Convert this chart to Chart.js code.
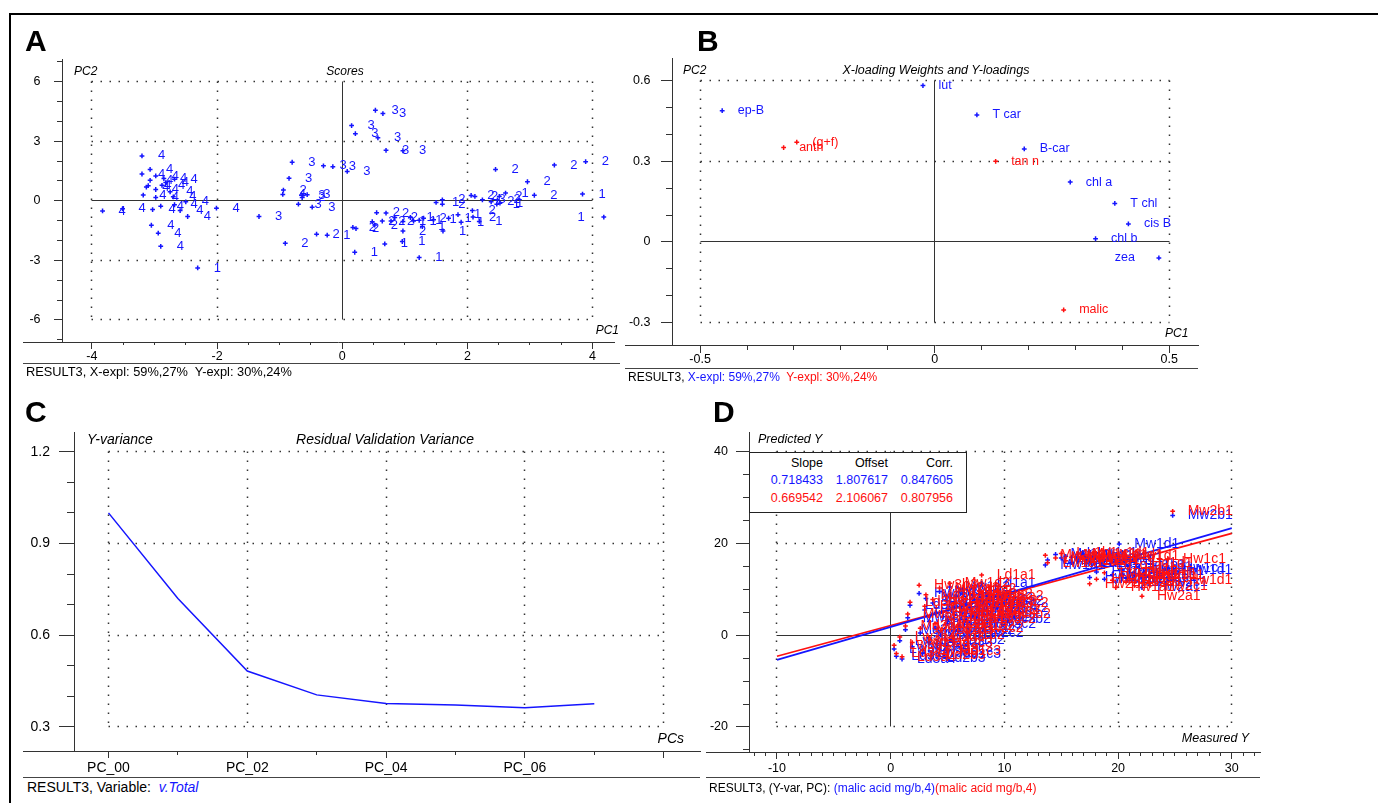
<!DOCTYPE html>
<html>
<head>
<meta charset="utf-8">
<title>PLS overview</title>
<script src="https://cdn.jsdelivr.net/npm/chart.js@4.4.1/dist/chart.umd.min.js"></script>
<style>
  html, body { margin: 0; padding: 0; background: #fff; overflow: hidden; }
  body { position: relative; width: 1378px; height: 803px; font-family: 'Liberation Sans', Arial, sans-serif; }
  canvas { position: absolute; }
  .t { position: absolute; line-height: 0; white-space: pre; font-size: 12px; color: #000; z-index: 3; }
  .it { font-style: italic; }
  .big { font-size: 30px; font-weight: bold; }
  .r { transform: translateX(-100%); }
  .c { transform: translateX(-50%); }
  .rule { position: absolute; height: 1px; background: #444; }
  .frame { position: absolute; background: #000; }
  .blue { color: #1515ff; }
  .red { color: #ff1010; }
  #fitBox { position: absolute; left: 749px; top: 452px; width: 218px; height: 61px; box-sizing: border-box; border: 1.5px solid #222; background: #fff; z-index: 2; }
</style>
</head>
<body>
<div class="frame" style="left:9px;top:13px;width:1369px;height:2px"></div>
<div class="frame" style="left:9px;top:13px;width:2px;height:790px"></div>

<canvas id="scores" width="620" height="360" style="left:0;top:14px"></canvas>
<canvas id="loadings" width="600" height="365" style="left:620px;top:14px"></canvas>
<canvas id="variance" width="710" height="385" style="left:0;top:390px"></canvas>
<canvas id="predicted" width="600" height="385" style="left:700px;top:390px"></canvas>
<div id="fitBox"></div>

<!-- A -->
<div class="t big" style="left:25px;top:41px">A</div>
<div class="t it" style="left:74px;top:71px">PC2</div>
<div class="t it c" style="left:345px;top:71px">Scores</div>
<div class="t it r" style="left:619px;top:330px">PC1</div>
<div class="rule" style="left:23px;top:363px;width:597px"></div>
<div class="t" style="left:26px;top:372px;font-size:12.8px">RESULT3, X-expl: 59%,27%  Y-expl: 30%,24%</div>

<!-- B -->
<div class="t big" style="left:697px;top:41px">B</div>
<div class="t it" style="left:683px;top:70px">PC2</div>
<div class="t it c" style="left:936px;top:70px;font-size:12.5px">X-loading Weights and Y-loadings</div>
<div class="t it" style="left:1165px;top:333px">PC1</div>
<div class="rule" style="left:625px;top:368px;width:573px"></div>
<div class="t" style="left:628px;top:377px">RESULT3, <span class="blue">X-expl: 59%,27%</span>  <span class="red">Y-expl: 30%,24%</span></div>

<!-- C -->
<div class="t big" style="left:25px;top:412px">C</div>
<div class="t it" style="left:87px;top:439px;font-size:14px">Y-variance</div>
<div class="t it c" style="left:385px;top:439px;font-size:14px">Residual Validation Variance</div>
<div class="t it r" style="left:684px;top:738px;font-size:14px">PCs</div>
<div class="rule" style="left:23px;top:777px;width:677px"></div>
<div class="t" style="left:27px;top:787px;font-size:14px">RESULT3, Variable:  <span class="blue it">v.Total</span></div>

<!-- D -->
<div class="t big" style="left:713px;top:412px">D</div>
<div class="t it" style="left:758px;top:439px;font-size:12.5px">Predicted Y</div>
<div class="t it r" style="left:1249px;top:738px;font-size:12.5px">Measured Y</div>
<div class="rule" style="left:706px;top:777px;width:554px"></div>
<div class="t" style="left:709px;top:788px">RESULT3, (Y-var, PC): <span class="blue">(malic acid mg/b,4)</span><span class="red">(malic acid mg/b,4)</span></div>

<script>
// ---------- A: scores ----------
var scorePC1 = [
  -3.20, -3.07, -3.20, -2.98, -3.07, -2.68, -2.85, -2.82, -3.10, -3.13,
  -2.88, -2.98, -2.75, -3.18, -2.98, -2.70, -2.50, -3.83, -3.51, -3.03,
  -2.90, -2.68, -2.59, -2.47, -3.05, -2.94, -2.90, -2.01, -2.31,
  -1.33, -0.80, -0.85, -0.94, -0.95, -0.64, -0.56, -0.64, -0.70, -0.48, -0.30, -0.15, 0.08,
  0.53, 0.65, 0.15, 0.21, 0.57, 0.70, 0.97,
  -0.91, -0.41, -0.24, 0.17, 0.22, 0.20, 0.68, 0.96, 1.23,
  0.55, 0.70, 0.48, 0.52, 0.64, 0.78, 0.84, 0.97, 0.97, 1.09, 1.14, 1.23, 1.30, 1.46, 1.28,
  1.50, 1.60, 1.60, 1.70, 1.61, 1.90, 2.06, 2.12, 2.08, 2.09, 2.19, 2.24, 2.38, 2.48, 2.47, 2.51, 1.85,
  2.45, 2.96, 2.61, 2.52, 3.07, 3.39, 3.89, 3.84, 4.18
];
var scorePC2 = [
  2.26, 1.58, 1.35, 1.25, 1.03, 1.09, 1.12, 0.92, 0.76, 0.69,
  0.78, 0.57, 0.45, 0.29, 0.17, 0.20, -0.05, -0.51, -0.40, -0.44,
  -0.27, -0.20, -0.49, -0.79, -1.23, -1.63, -2.29, -0.37, -3.38,
  -0.79, 1.94, 1.13, 0.54, 0.32, 0.29, 0.31, 0.16, -0.17, -0.32, 1.76, 1.72, 1.48,
  4.56, 4.39, 3.79, 3.38, 3.17, 2.54, 2.52,
  -2.14, -1.68, -1.73, -1.34, -1.40, -2.59, -2.17, -2.05, -2.86,
  -0.60, -0.62, -1.05, -1.22, -1.02, -1.02, -0.84, -1.04, -1.52, -0.84, -1.02, -0.98, -0.88, -0.95, -1.30,
  -0.08, 0.05, -0.17, -0.88, -1.52, -1.08, 0.27, 0.22, -0.49, -0.82, -1.04, 0.05, -0.05, 0.05, -0.17, 0.22, -0.70,
  1.58, 0.96, 0.39, -0.12, 0.28, 1.80, 1.97, 0.34, -0.82
];
var scoreGroup = [
  4, 4, 4, 4, 4, 4, 4, 4, 4, 4,
  4, 4, 4, 4, 4, 4, 4, 4, 4, 4,
  4, 4, 4, 4, 4, 4, 4, 4, 1,
  3, 3, 3, 2, 4, 3, 3, 2, 3, 3, 3, 3, 3,
  3, 3, 3, 3, 3, 3, 3,
  2, 2, 1, 2, 2, 1, 1, 1, 1,
  2, 2, 2, 2, 2, 2, 2, 1, 2, 1, 1, 1, 2, 1, 1,
  1, 2, 2, 1, 1, 1, 2, 2, 2, 2, 1, 3, 2, 2, 1, 2, 1,
  2, 2, 1, 1, 2, 2, 2, 1, 1
];

// ---------- B: loadings ----------
var xLoadNames = ['ep-B', 'lut', 'T car', 'B-car', 'chl a', 'T chl', 'cis B', 'chl b', 'zea'];
var xLoadPC1 = [-0.453, -0.025, 0.090, 0.191, 0.289, 0.384, 0.413, 0.343, 0.478];
var xLoadPC2 = [0.487, 0.580, 0.471, 0.345, 0.222, 0.143, 0.067, 0.012, -0.059];
var yLoadNames = ['anth', '(g+f)', 'tan n', 'malic'];
var yLoadPC1 = [-0.322, -0.294, 0.130, 0.275];
var yLoadPC2 = [0.350, 0.370, 0.299, -0.252];

// ---------- C: residual validation variance ----------
var pcNumber = [0, 1, 2, 3, 4, 5, 6, 7];
var residualVar = [1.0, 0.72, 0.483, 0.405, 0.377, 0.372, 0.363, 0.376];

// ---------- D: predicted vs measured ----------
var sampleNames = [
  'Lw3d4', 'Ld3c4', 'Lw3b4', 'Ld3a4', 'Md3d4', 'Mw3c4', 'Ld3b4', 'Md3a4',
  'Hw3b3', 'Mw3b3', 'Lw3a3', 'Hd3a3', 'Md3b3', 'Lw2d3', 'Mw2c3', 'Ld2b3', 'Hw2d3', 'Md2a3',
  'Lw2b3', 'Hd2c3', 'Mw2a3', 'Ld2c3', 'Hw1d3', 'Md1c3', 'Lw1a3', 'Hd1b3',
  'Mw1d2', 'Ld1b2', 'Hw1a2', 'Md1d2', 'Lw1c2', 'Hd1a2', 'Mw2d2', 'Ld2a2', 'Hw2c2', 'Md2b2',
  'Lw2c2', 'Hd2d2', 'Mw3a2', 'Ld3d2', 'Ld1a1', 'Hw3c2', 'Md3c2', 'Lw3d2', 'Hd3a2', 'Mw3b2', 'Ld3c2',
  'Mw1a1', 'Lw1a1', 'Md1b1', 'Lw1b1', 'Mw1b1', 'Md1c1', 'Mw1c1', 'Lw1c1', 'Ld1b1', 'Hw2b1',
  'Lw1d1', 'Hd2b1', 'Ld1c1', 'Hw2d1', 'Ld1d1', 'Hd2c1', 'Hw1a1', 'Mw1d1', 'Hd1a1', 'Hd2a1',
  'Hd1b1', 'Hd1c1', 'Hd1d1', 'Hd2d1', 'Hw2a1', 'Hw1b1', 'Hw2c1', 'Hw1c1', 'Hw1d1', 'Mw2b1'
];
var measuredY = [
  0.3, 0.5, 0.8, 1.0, 1.3, 1.5, 1.7, 1.9,
  2.5, 2.6, 2.8, 3.0, 3.1, 3.3, 3.4, 3.6, 3.7, 3.9,
  4.0, 4.1, 4.3, 4.4, 4.6, 4.7, 4.9, 5.0,
  5.2, 5.3, 5.5, 5.6, 5.8, 6.0, 6.1, 6.3, 6.5, 6.6,
  6.8, 7.0, 7.2, 7.4, 8.0, 7.7, 7.9, 8.2, 8.5, 8.8, 9.2,
  13.6, 13.8, 14.5, 15.0, 15.4, 15.9, 16.4, 16.8, 17.2, 17.5,
  17.8, 18.1, 18.5, 18.8, 19.2, 19.5, 19.8, 20.1, 20.4, 20.7,
  21.0, 21.3, 21.6, 22.0, 22.1, 22.4, 22.8, 24.4, 24.9, 24.8
];
var predictedCal = [
  -3.0, -4.6, -1.2, -5.2, 1.2, 3.8, 6.5, -2.5,
  9.1, 0.5, -4.0, 5.5, 8.0, -1.5, 3.0, -5.0, 7.0, 1.5,
  5.0, -2.8, 9.5, 0.0, 4.0, -4.2, 7.5, 2.5,
  10.5, -1.0, 6.0, 3.5, 8.5, 1.0, 5.0, 9.0, 3.0, 7.0,
  0.5, 6.0, 8.0, 4.0, 11.3, 2.5, 6.5, 4.5, 7.5, 3.5, 6.0,
  15.3, 16.4, 17.6, 16.8, 17.2, 15.8, 16.6, 17.8, 15.6, 12.6,
  17.2, 13.8, 16.2, 12.2, 16.8, 13.2, 11.6, 19.9, 14.2, 12.4,
  15.2, 13.4, 14.8, 12.6, 10.4, 14.0, 11.6, 14.6, 14.1, 26.1
];
var predictedVal = [
  -2.2, -4.0, -0.4, -4.7, 2.0, 4.6, 7.2, -1.6,
  10.9, 1.5, -3.2, 6.3, 8.8, -0.5, 4.0, -4.4, 7.8, 2.5,
  6.0, -1.8, 10.3, 1.0, 5.0, -3.4, 8.5, 3.5,
  11.3, 0.0, 7.0, 4.5, 9.5, 2.0, 6.0, 10.0, 4.0, 8.0,
  1.5, 7.0, 9.0, 5.0, 13.1, 3.5, 7.5, 5.5, 8.5, 4.5, 7.0,
  17.4, 15.8, 16.8, 17.8, 16.2, 17.0, 17.6, 16.9, 16.4, 11.2,
  17.9, 12.2, 15.2, 13.6, 17.4, 12.0, 10.4, 17.2, 13.1, 11.6,
  14.3, 12.4, 15.6, 13.4, 8.5, 13.0, 10.8, 16.6, 11.9, 27.0
];
var fitSlope = [0.718433, 0.669542];
var fitOffset = [1.807617, 2.106067];
var fitCorr = [0.847605, 0.807956];

var BLUE = '#1515ff', RED = '#ff1010', INK = '#333';

Chart.defaults.font.family = "'Liberation Sans', Arial, sans-serif";
Chart.defaults.color = '#000';

function al(p) { return Math.round(p - 0.5) + 0.5; }

// dotted grid, solid zero cross, minor ticks, axis stub
var decor = {
  id: 'decor',
  beforeDatasetsDraw: function(chart, args, o) {
    var ctx = chart.ctx, x = chart.scales.x, y = chart.scales.y;
    var X = function(v) { return al(x.getPixelForValue(v)); };
    var Y = function(v) { return al(y.getPixelForValue(v)); };
    function seg(a, b, c, d) { ctx.beginPath(); ctx.moveTo(a, b); ctx.lineTo(c, d); ctx.stroke(); }
    ctx.save();
    ctx.strokeStyle = INK;
    ctx.lineWidth = 1.5;
    ctx.setLineDash([1.5, 7.5]);
    o.dotX.forEach(function(v) { seg(X(v), Y(o.ySpan[1]), X(v), Y(o.ySpan[0])); });
    o.dotY.forEach(function(v) { seg(X(o.xSpan[0]), Y(v), X(o.xSpan[1]), Y(v)); });
    ctx.setLineDash([]);
    ctx.lineWidth = 1;
    if (o.zero) {
      seg(X(0), Y(o.ySpan[1]), X(0), Y(o.ySpan[0]));
      seg(X(o.xSpan[0]), Y(0), X(o.xSpan[1]), Y(0));
    }
    ctx.restore();
  },
  afterDraw: function(chart, args, o) {
    var ctx = chart.ctx, a = chart.chartArea, x = chart.scales.x, y = chart.scales.y;
    function seg(p, q, r, s) { ctx.beginPath(); ctx.moveTo(p, q); ctx.lineTo(r, s); ctx.stroke(); }
    ctx.save();
    ctx.strokeStyle = INK;
    ctx.lineWidth = 1;
    var k, p;
    for (k = Math.ceil(x.min / o.minorX - 1e-9); k * o.minorX <= x.max + 1e-9; k++) {
      p = al(x.getPixelForValue(k * o.minorX));
      seg(p, a.bottom, p, a.bottom + o.minorLenX);
    }
    for (k = Math.ceil(y.min / o.minorY - 1e-9); k * o.minorY <= y.max + 1e-9; k++) {
      p = al(y.getPixelForValue(k * o.minorY));
      seg(a.left - o.minorLenY, p, a.left, p);
    }
    seg(o.axisFrom, al(a.bottom), a.left, al(a.bottom));
    ctx.restore();
  }
};

// text tag beside each marker
var tags = {
  id: 'tags',
  afterDatasetsDraw: function(chart, args, o) {
    var ctx = chart.ctx;
    ctx.save();
    ctx.font = o.font;
    ctx.textBaseline = 'middle';
    for (var i = chart.data.datasets.length - 1; i >= 0; i--) {
      var ds = chart.data.datasets[i];
      if (!ds.tags) continue;
      ctx.fillStyle = ds.borderColor;
      chart.getDatasetMeta(i).data.forEach(function(pt, j) {
        var back = o.flipBeyond != null && ds.data[j].x > o.flipBeyond;
        ctx.textAlign = back ? 'right' : 'left';
        ctx.fillText(String(ds.tags[j]), pt.x + (back ? -o.back : o.gap), pt.y);
      });
    }
    ctx.restore();
  }
};

function axis(min, max, step, size, tick, pad, font, fmt) {
  return {
    type: 'linear', min: min, max: max,
    afterFit: function(s) { if (s.isHorizontal()) s.height = size; else s.width = size; },
    grid: { drawOnChartArea: false, tickLength: tick, color: INK },
    border: { color: INK, width: 1 },
    ticks: {
      stepSize: step, includeBounds: false, autoSkip: false, maxRotation: 0, minRotation: 0,
      padding: pad, color: '#000', font: { size: font }, callback: fmt
    }
  };
}

function options(pad, xs, ys, dec, tg) {
  return {
    responsive: false, animation: false, events: [],
    layout: { padding: pad },
    plugins: { legend: { display: false }, tooltip: { enabled: false }, decor: dec, tags: tg || {} },
    scales: { x: xs, y: ys }
  };
}

function pts(xs, ys) { return xs.map(function(v, i) { return { x: v, y: ys[i] }; }); }
function oneDec(v) { return String(Math.round(v * 10) / 10); }
function plain(v) { return String(v); }

var marker = { pointStyle: 'cross', pointRadius: 2.4, borderWidth: 1.5, showLine: false };

// A
new Chart(document.getElementById('scores'), {
  type: 'scatter',
  data: { datasets: [Object.assign({ data: pts(scorePC1, scorePC2), tags: scoreGroup, borderColor: BLUE, backgroundColor: BLUE }, marker)] },
  options: options({ left: 0, top: 45, right: 0, bottom: 0 },
    axis(-4.478, 4.351, 2, 32, 7, -0.2, 12.5, plain),
    axis(-7.11, 7.14, 3, 62, 8, 13.5, 12.5, plain),
    { xSpan: [-4, 4], ySpan: [-6, 6], dotX: [-4, -2, 2, 4], dotY: [-6, -3, 3, 6], zero: true,
      minorX: 0.5, minorY: 1, minorLenX: 3, minorLenY: 5, axisFrom: 23 },
    { font: '13px "Liberation Sans", Arial', gap: 16, back: 19, flipBeyond: 4 }),
  plugins: [decor, tags]
});

// B
new Chart(document.getElementById('loadings'), {
  type: 'scatter',
  data: { datasets: [
    Object.assign({ data: pts(yLoadPC1, yLoadPC2), tags: yLoadNames, borderColor: RED, backgroundColor: RED }, marker),
    Object.assign({ data: pts(xLoadPC1, xLoadPC2), tags: xLoadNames, borderColor: BLUE, backgroundColor: BLUE }, marker)
  ] },
  options: options({ left: 0, top: 44, right: 22, bottom: 0 },
    axis(-0.56, 0.5614, 0.5, 34, 8, -0.5, 12.5, oneDec),
    axis(-0.3819, 0.6822, 0.3, 52, 11, 10.5, 12.5, oneDec),
    { xSpan: [-0.5, 0.5], ySpan: [-0.3, 0.6], dotX: [-0.5, 0.5], dotY: [-0.3, 0.3, 0.6], zero: true,
      minorX: 0.1, minorY: 0.1, minorLenX: 5, minorLenY: 6, axisFrom: 5 },
    { font: '12.5px "Liberation Sans", Arial', gap: 15.5, back: 24, flipBeyond: 0.45 }),
  plugins: [decor, tags]
});

// C
new Chart(document.getElementById('variance'), {
  type: 'scatter',
  data: { datasets: [{ data: pts(pcNumber, residualVar), showLine: true, borderColor: BLUE, borderWidth: 1.5, pointRadius: 0, tension: 0 }] },
  options: options({ left: 0, top: 42, right: 10, bottom: 0 },
    axis(-0.497, 8.523, 2, 24, 7, 1.3, 14, function(v) { return v < 8 ? 'PC_0' + v : ''; }),
    axis(0.2215, 1.2644, 0.3, 74, 15, 9, 14, function(v) { return v.toFixed(1); }),
    { xSpan: [0, 8], ySpan: [0.3, 1.2], dotX: [0, 2, 4, 6, 8], dotY: [0.3, 0.6, 0.9, 1.2], zero: false,
      minorX: 1, minorY: 0.1, minorLenX: 4, minorLenY: 7, axisFrom: 23 }),
  plugins: [decor]
});

// D
function fitLine(i) {
  return [-10, 30].map(function(v) { return { x: v, y: fitOffset[i] + fitSlope[i] * v }; });
}
new Chart(document.getElementById('predicted'), {
  type: 'scatter',
  data: { datasets: [
    Object.assign({ data: pts(measuredY, predictedVal), tags: sampleNames, borderColor: RED, backgroundColor: RED }, marker),
    Object.assign({ data: pts(measuredY, predictedCal), tags: sampleNames, borderColor: BLUE, backgroundColor: BLUE }, marker),
    { data: fitLine(0), showLine: true, borderColor: BLUE, borderWidth: 1.8, pointRadius: 0 },
    { data: fitLine(1), showLine: true, borderColor: RED, borderWidth: 1.8, pointRadius: 0 }
  ] },
  options: options({ left: 0, top: 42, right: 40, bottom: 0 },
    axis(-12.46, 32.48, 10, 23, 7, 2, 12.5, plain),
    axis(-25.46, 44.29, 20, 49, 13, 8, 12.5, plain),
    { xSpan: [-10, 30], ySpan: [-20, 40], dotX: [-10, 10, 20, 30], dotY: [-20, 20, 40], zero: true,
      minorX: 1, minorY: 5, minorLenX: 4, minorLenY: 6, axisFrom: 6 },
    { font: '14px "Liberation Sans", Arial', gap: 15, back: 19 }),
  plugins: [decor, tags]
});

// fit statistics box
var boxRight = [823, 888, 953], boxRowY = [463, 480, 498];
function cell(text, col, row, cls) {
  var d = document.createElement('div');
  d.className = 't r ' + cls;
  d.style.left = boxRight[col] + 'px';
  d.style.top = boxRowY[row] + 'px';
  d.style.fontSize = '12.5px';
  d.textContent = text;
  document.body.appendChild(d);
}
['Slope', 'Offset', 'Corr.'].forEach(function(h, c) { cell(h, c, 0, ''); });
[0, 1].forEach(function(r) {
  [fitSlope[r], fitOffset[r], fitCorr[r]].forEach(function(v, c) { cell(v.toFixed(6), c, r + 1, r ? 'red' : 'blue'); });
});
</script>
</body>
</html>
